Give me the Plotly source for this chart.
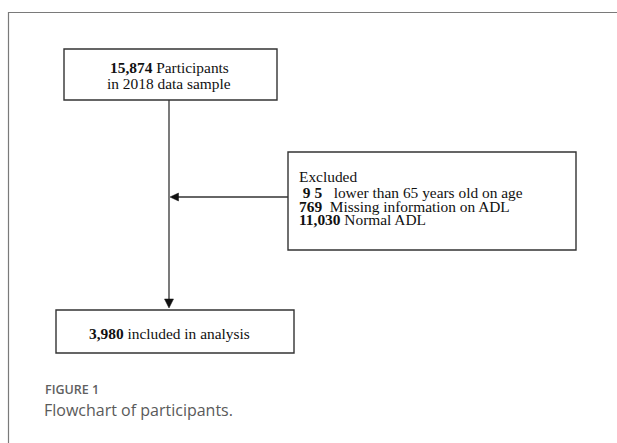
import plotly.graph_objects as go

# ---- data ----
total_participants = "15,874"
sample_year = "2018"
excluded_counts = ["9 5", "769", "11,030"]
excluded_reasons = ["lower than 65 years old on age", "Missing information on ADL", "Normal ADL"]
included_count = "3,980"
caption_label = "FIGURE 1"
caption_text = "Flowchart of participants."

W, H = 617, 443
SERIF = "Liberation Serif, Times New Roman, serif"
SANS = "Open Sans, Noto Sans, sans-serif"
LINE = "#333333"
TXT = "#111111"

fig = go.Figure()
fig.add_trace(go.Scatter(x=[0, W], y=[0, H], mode="markers", marker=dict(opacity=0),
                         hoverinfo="skip", showlegend=False))

shapes = []
shapes.append(dict(type="path", path=f"M 8.5 {H+5} L 8.5 12.5 L {W+5} 12.5",
                   line=dict(color="#7a7a7a", width=1.2)))
boxes = [(64, 49, 277, 100), (288, 152, 576, 250), (56, 310, 294, 353)]
for x0, y0, x1, y1 in boxes:
    shapes.append(dict(type="rect", x0=x0, y0=y0, x1=x1, y1=y1,
                       line=dict(color=LINE, width=1.4), fillcolor="white"))
shapes.append(dict(type="line", x0=169, y0=100, x1=169, y1=301, line=dict(color=LINE, width=1.3)))
shapes.append(dict(type="path", path="M 164.5 299 L 173.5 299 L 169 308 Z",
                   fillcolor="#111", line=dict(color="#111", width=0.5)))
shapes.append(dict(type="line", x0=288, y0=197, x1=176, y1=197, line=dict(color=LINE, width=1.3)))
shapes.append(dict(type="path", path="M 178.5 193 L 178.5 201 L 170 197 Z",
                   fillcolor="#111", line=dict(color="#111", width=0.5)))

ann = []
def t(x, y, text, size=15.4, xanchor="center", font=SERIF, color=TXT, weight="normal"):
    ann.append(dict(x=x, y=y, text=text, showarrow=False, xanchor=xanchor, yanchor="middle",
                    font=dict(family=font, size=size, color=color, weight=weight),
                    xref="x", yref="y"))

t(169, 67, f"<b>{total_participants}</b> Participants")
t(169, 83, f"in {sample_year} data sample")

t(297, 176, "Excluded", xanchor="left")
ys = [192, 206, 219]
for i in range(3):
    if i == 0:
        txt = f"\u00a0<b>{excluded_counts[i]}</b>\u00a0\u00a0\u00a0{excluded_reasons[i]}"
    elif i == 1:
        txt = f"<b>{excluded_counts[i]}</b>\u00a0\u00a0{excluded_reasons[i]}"
    else:
        txt = f"<b>{excluded_counts[i]}</b> {excluded_reasons[i]}"
    t(297, ys[i], txt, xanchor="left")

t(169, 333, f"<b>{included_count}</b> included in analysis")

t(43, 389, caption_label, size=12.5, xanchor="left", font=SANS, color="#606060", weight=600)
t(42, 410, caption_text, size=16, xanchor="left", font=SANS, color="#5a5a5a")

fig.update_layout(
    width=W, height=H, margin=dict(l=0, r=0, t=0, b=0),
    paper_bgcolor="white", plot_bgcolor="white",
    xaxis=dict(range=[0, W], visible=False, fixedrange=True),
    yaxis=dict(range=[H, 0], visible=False, fixedrange=True),
    shapes=shapes, annotations=ann, showlegend=False,
)
fig.write_html("out.html", config={"displayModeBar": False},
               post_script="document.body.style.margin='0';document.body.style.overflow='hidden';")
